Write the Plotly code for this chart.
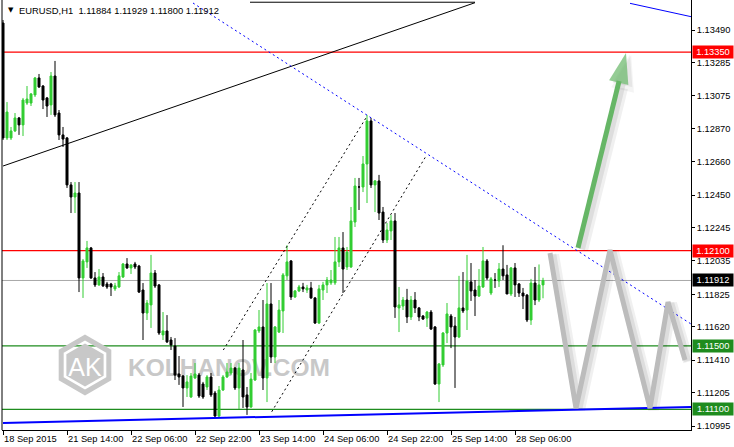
import math
import plotly.graph_objects as go

# ---------------- data ----------------
symbol = "EURUSD"
timeframe = "H1"

open_ = [1.13534, 1.12810, 1.12810, 1.12854, 1.12936, 1.12892, 1.13030, 1.13030, 1.13081, 1.13188,
         1.13137, 1.13062, 1.13018, 1.13200, 1.12967, 1.12829, 1.12810, 1.12514, 1.12438, 1.12463,
         1.11928, 1.12029, 1.12117, 1.11928, 1.11884, 1.11934, 1.11890, 1.11890, 1.11859, 1.11871,
         1.11934, 1.12016, 1.11991, 1.12016, 1.12003, 1.11852, 1.11707, 1.11758, 1.11959, 1.11884,
         1.11569, 1.11594, 1.11537, 1.11499, 1.11323, 1.11310, 1.11235, 1.11178, 1.11298, 1.11316,
         1.11260, 1.11241, 1.11304, 1.11203, 1.11058, 1.11222, 1.11304, 1.11329, 1.11360, 1.11235,
         1.11348, 1.11191, 1.11115, 1.11285, 1.11594, 1.11619, 1.11298, 1.11764, 1.11430, 1.11587,
         1.11720, 1.11941, 1.12035, 1.11808, 1.11846, 1.11871, 1.11852, 1.11865, 1.11802, 1.11644,
         1.11852, 1.11884, 1.11897, 1.11897, 1.12029, 1.12117, 1.11997, 1.11997, 1.12280, 1.12501,
         1.12501, 1.12646, 1.12917, 1.12514, 1.12539, 1.12343, 1.12167, 1.12224, 1.12287, 1.11739,
         1.11751, 1.11789, 1.11682, 1.11789, 1.11739, 1.11688, 1.11675, 1.11713, 1.11619, 1.11260,
         1.11380, 1.11581, 1.11688, 1.11625, 1.11556, 1.11739, 1.11726, 1.11903, 1.11852, 1.11814,
         1.11871, 1.12035, 1.11833, 1.11915, 1.11909, 1.11984, 1.11947, 1.11827, 1.11991, 1.11890,
         1.11833, 1.11820, 1.11663, 1.11896, 1.11789, 1.11884]
high = [1.13553, 1.13036, 1.12879, 1.12967, 1.12942, 1.13062, 1.13137, 1.13093, 1.13194, 1.13213,
        1.13143, 1.13068, 1.13225, 1.13295, 1.12986, 1.12879, 1.12816, 1.12532, 1.12532, 1.12532,
        1.12047, 1.12161, 1.12123, 1.11965, 1.11984, 1.11959, 1.11903, 1.11897, 1.11897, 1.11965,
        1.12022, 1.12053, 1.12013, 1.12029, 1.12010, 1.11896, 1.11789, 1.12073, 1.11978, 1.11890,
        1.11713, 1.11694, 1.11556, 1.11549, 1.11436, 1.11316, 1.11316, 1.11329, 1.11392, 1.11329,
        1.11273, 1.11316, 1.11329, 1.11216, 1.11247, 1.11316, 1.11392, 1.11392, 1.11367, 1.11392,
        1.11537, 1.11241, 1.11329, 1.11606, 1.11726, 1.11789, 1.11896, 1.11896, 1.11625, 1.11789,
        1.11959, 1.12134, 1.12041, 1.11852, 1.11884, 1.11897, 1.11884, 1.11903, 1.11808, 1.11884,
        1.11903, 1.11934, 1.11978, 1.12186, 1.12186, 1.12217, 1.12123, 1.12375, 1.12558, 1.12558,
        1.12696, 1.12955, 1.12936, 1.12545, 1.12577, 1.12375, 1.12274, 1.12324, 1.12337, 1.11871,
        1.11808, 1.11859, 1.11814, 1.11839, 1.11745, 1.11694, 1.11720, 1.11726, 1.11625, 1.11392,
        1.11587, 1.11770, 1.11701, 1.11682, 1.11941, 1.11965, 1.12073, 1.12022, 1.11915, 1.11984,
        1.12123, 1.12047, 1.11934, 1.11959, 1.12022, 1.12134, 1.12010, 1.11997, 1.12022, 1.11896,
        1.11865, 1.11827, 1.11922, 1.11997, 1.12013, 1.11929]
low = [1.12797, 1.12797, 1.12797, 1.12847, 1.12829, 1.12822, 1.13018, 1.13011, 1.13068, 1.13125,
       1.12992, 1.12942, 1.12955, 1.12942, 1.12797, 1.12753, 1.12495, 1.12337, 1.12337, 1.11839,
       1.11802, 1.11991, 1.11922, 1.11871, 1.11878, 1.11871, 1.11859, 1.11814, 1.11846, 1.11865,
       1.11928, 1.11985, 1.11953, 1.11984, 1.11833, 1.11537, 1.11663, 1.11613, 1.11865, 1.11569,
       1.11537, 1.11518, 1.11474, 1.11285, 1.11254, 1.11115, 1.11178, 1.11172, 1.11291, 1.11172,
       1.11166, 1.11222, 1.11178, 1.11052, 1.11052, 1.11216, 1.11298, 1.11316, 1.11222, 1.11102,
       1.11109, 1.11065, 1.11109, 1.11279, 1.11581, 1.11222, 1.11146, 1.11392, 1.11392, 1.11581,
       1.11581, 1.11915, 1.11789, 1.11802, 1.11839, 1.11839, 1.11833, 1.11796, 1.11638, 1.11638,
       1.11789, 1.11833, 1.11884, 1.11884, 1.11997, 1.11833, 1.11978, 1.11991, 1.12249, 1.12356,
       1.12469, 1.12400, 1.12495, 1.12343, 1.12293, 1.12148, 1.12148, 1.12167, 1.11676, 1.11587,
       1.11726, 1.11644, 1.11663, 1.11707, 1.11656, 1.11663, 1.11619, 1.11600, 1.11254, 1.11146,
       1.11367, 1.11518, 1.11486, 1.11235, 1.11549, 1.11707, 1.11600, 1.11783, 1.11688, 1.11808,
       1.11865, 1.11915, 1.11820, 1.11865, 1.11871, 1.11915, 1.11827, 1.11814, 1.11808, 1.11808,
       1.11732, 1.11650, 1.11632, 1.11757, 1.11776, 1.11800]
close = [1.12810, 1.12973, 1.12854, 1.12936, 1.12892, 1.13049, 1.13055, 1.13087, 1.13188, 1.13131,
         1.13049, 1.13011, 1.13200, 1.12955, 1.12829, 1.12803, 1.12514, 1.12438, 1.12463, 1.11928,
         1.12035, 1.12117, 1.11928, 1.11884, 1.11934, 1.11878, 1.11871, 1.11871, 1.11878, 1.11941,
         1.12016, 1.11991, 1.12010, 1.11997, 1.11839, 1.11707, 1.11770, 1.11959, 1.11877, 1.11581,
         1.11594, 1.11525, 1.11506, 1.11316, 1.11304, 1.11235, 1.11273, 1.11310, 1.11323, 1.11184,
         1.11178, 1.11304, 1.11191, 1.11058, 1.11222, 1.11304, 1.11335, 1.11360, 1.11235, 1.11360,
         1.11178, 1.11115, 1.11291, 1.11600, 1.11619, 1.11298, 1.11764, 1.11430, 1.11619, 1.11726,
         1.11947, 1.12029, 1.11808, 1.11846, 1.11871, 1.11859, 1.11865, 1.11802, 1.11644, 1.11859,
         1.11884, 1.11915, 1.11915, 1.12029, 1.12117, 1.11984, 1.12091, 1.12287, 1.12507, 1.12501,
         1.12646, 1.12917, 1.12514, 1.12539, 1.12337, 1.12167, 1.12230, 1.12287, 1.11745, 1.11758,
         1.11789, 1.11682, 1.11789, 1.11739, 1.11682, 1.11669, 1.11713, 1.11606, 1.11260, 1.11386,
         1.11581, 1.11701, 1.11619, 1.11556, 1.11739, 1.11720, 1.11909, 1.11846, 1.11814, 1.11877,
         1.12035, 1.11928, 1.11922, 1.11915, 1.11984, 1.11941, 1.11827, 1.11991, 1.11884, 1.11833,
         1.11814, 1.11663, 1.11896, 1.11789, 1.11884, 1.11912]

bars = list(range(len(close)))

xtick_bars = [0, 16, 32, 48, 64, 80, 96, 112, 128]
xtick_labels = ["18 Sep 2015", "21 Sep 14:00", "22 Sep 06:00", "22 Sep 22:00", "23 Sep 14:00",
                "24 Sep 06:00", "24 Sep 22:00", "25 Sep 14:00", "28 Sep 06:00"]
ytick_values = [1.13490, 1.13285, 1.13075, 1.12870, 1.12660, 1.12450, 1.12245,
                1.12035, 1.11825, 1.11620, 1.11410, 1.11205, 1.10995]

resistance_levels = [1.13350, 1.12100]
support_levels = [1.11500, 1.11100]
bid_price = close[-1]

# drawn objects (bar index, price)
trend_black_x = [0, 118]
trend_black_y = [1.12633, 1.13662]
top_black_x = [61.75, 118]
top_black_y = [1.13665, 1.13665]
resist_blue_x = [47.5, 172]
resist_blue_y = [1.13660, 1.11638]
upper_blue_x = [156.75, 172]
upper_blue_y = [1.13658, 1.13574]
support_blue_x = [0, 172]
support_blue_y = [1.11014, 1.11115]
chan_upper_x = [55.08, 90.93]
chan_upper_y = [1.11474, 1.12944]
chan_lower_x = [67.18, 105.93]
chan_lower_y = [1.11085, 1.12703]
arrow_x = [143.75, 155.75]
arrow_y = [1.12117, 1.13345]
zigzag_x = [136.75, 143.25, 151.75, 161.75, 166.25, 170.5]
zigzag_y = [1.12085, 1.11108, 1.12104, 1.11108, 1.11776, 1.11411]

# ---------------- style / layout ----------------
W, H = 734, 447
ML, MR, MT, MB = 2, 43, 0, 17
PW, PH = W - ML - MR, H - MT - MB
FONT = "Liberation Sans, Arial, sans-serif"
BULL = "#32CD32"
GREEN_LVL = "#1E8C1E"
RED_LVL = "#FF0000"


def px(x):
    return (x - ML) / PW


def py(y):
    return 1 - (y - MT) / PH


fig = go.Figure()

# soft shadows of the zigzag and the arrow
for dx, dy, a, wd in [(0.9, -0.00010, 0.06, 11), (0.7, -0.00007, 0.08, 7)]:
    fig.add_trace(go.Scatter(x=[v + dx for v in zigzag_x], y=[v + dy for v in zigzag_y],
                             mode="lines", line=dict(color=f"rgba(0,0,0,{a})", width=wd),
                             hoverinfo="skip"))
for dx, dy, a, wd, ms in [(1.3, -0.00012, 0.06, 10, 38), (1.0, -0.00009, 0.08, 6, 33)]:
    fig.add_trace(go.Scatter(x=[v + dx for v in arrow_x], y=[v + dy for v in arrow_y],
                             mode="lines+markers", line=dict(color=f"rgba(0,0,0,{a})", width=wd),
                             marker=dict(symbol="arrow", size=[0, ms], angleref="previous",
                                         color=f"rgba(0,0,0,{a})", line=dict(width=0)),
                             hoverinfo="skip"))

# trend lines
line_specs = [
    (trend_black_x, trend_black_y, "black", 1, "solid"),
    (top_black_x, top_black_y, "black", 1, "solid"),
    (resist_blue_x, resist_blue_y, "#0000FF", 1, "2px,3px"),
    (upper_blue_x, upper_blue_y, "#0000FF", 1, "solid"),
    (support_blue_x, support_blue_y, "#0000FF", 2, "solid"),
    (chan_upper_x, chan_upper_y, "black", 1, "2px,3px"),
    (chan_lower_x, chan_lower_y, "black", 1, "2px,3px"),
]
for xs, ys, col, wd, dash in line_specs:
    fig.add_trace(go.Scatter(x=xs, y=ys, mode="lines",
                             line=dict(color=col, width=wd, dash=dash), hoverinfo="skip"))

# candles
fig.add_trace(go.Candlestick(
    x=bars, open=open_, high=high, low=low, close=close,
    increasing=dict(line=dict(color=BULL, width=1), fillcolor=BULL),
    decreasing=dict(line=dict(color="black", width=1), fillcolor="black"),
    whiskerwidth=0, hoverinfo="skip"))

# zigzag and arrow
fig.add_trace(go.Scatter(x=zigzag_x, y=zigzag_y, mode="lines",
                         line=dict(color="rgb(188,188,188)", width=5), hoverinfo="skip"))
fig.add_trace(go.Scatter(x=arrow_x, y=arrow_y, mode="lines+markers",
                         line=dict(color="rgb(102,182,102)", width=5),
                         marker=dict(symbol="arrow", size=[0, 32], angleref="previous",
                                     color="rgb(102,182,102)", line=dict(width=0)),
                         hoverinfo="skip"))

shapes = []
# horizontal levels
for v in resistance_levels:
    shapes.append(dict(type="line", xref="paper", yref="y", x0=0, x1=1, y0=v, y1=v,
                       line=dict(color=RED_LVL, width=1.2), layer="below"))
for v in support_levels:
    shapes.append(dict(type="line", xref="paper", yref="y", x0=0, x1=1, y0=v, y1=v,
                       line=dict(color=GREEN_LVL, width=1.2), layer="below"))
shapes.append(dict(type="line", xref="paper", yref="y", x0=0, x1=1, y0=bid_price, y1=bid_price,
                   line=dict(color="#A8A8A8", width=1), layer="below"))
# left frame
shapes.append(dict(type="line", xref="paper", yref="paper", x0=0, x1=0, y0=0, y1=1,
                   line=dict(color="black", width=1)))

# watermark
WM = "#C8C8C8"


def hexpath(cx, cy, r):
    pts = []
    for k in range(6):
        a = math.radians(90 - 60 * k)
        pts.append((px(cx + r * math.cos(a)), py(cy - r * math.sin(a))))
    return "M" + " L".join(f"{a:.5f},{b:.5f}" for a, b in pts) + " Z"


shapes.append(dict(type="path", xref="paper", yref="paper", path=hexpath(85, 365, 27.5),
                   line=dict(color=WM, width=5), fillcolor="rgba(0,0,0,0)", layer="below"))
shapes.append(dict(type="path", xref="paper", yref="paper", path=hexpath(85, 365, 21.5),
                   line=dict(color=WM, width=0), fillcolor=WM, layer="below"))
shapes.append(dict(type="rect", xref="paper", yref="paper", x0=px(60), x1=px(110),
                   y0=py(380), y1=py(350), line=dict(width=0), fillcolor="rgba(0,0,0,0)",
                   layer="below",
                   label=dict(text="AK", textposition="middle center",
                              font=dict(family=FONT, size=25, color="white"))))
shapes.append(dict(type="rect", xref="paper", yref="paper", x0=px(121), x1=px(340),
                   y0=py(378), y1=py(352), line=dict(width=0), fillcolor="rgba(0,0,0,0)",
                   layer="below",
                   label=dict(text="<b>KOLHANOV.COM</b>", textposition="middle left", padding=4,
                              font=dict(family=FONT, size=24.5, color=WM))))

# right-axis price boxes
boxes = [(v, RED_LVL) for v in resistance_levels] + [(v, GREEN_LVL) for v in support_levels]
boxes.append((bid_price, "black"))
ann = []
for v, col in boxes:
    ann.append(dict(xref="paper", x=1, xanchor="left", xshift=1, yref="y", y=v, yanchor="middle",
                    text=f"{v:.5f}", showarrow=False, bgcolor=col, borderpad=1, width=38, height=10,
                    align="center", font=dict(family=FONT, size=9.3, color="white")))

# header
ann.append(dict(xref="paper", yref="paper", x=px(6), y=py(10.5), xanchor="left", yanchor="middle",
                text="▼", showarrow=False, font=dict(family="DejaVu Sans", size=7, color="black")))
ann.append(dict(xref="paper", yref="paper", x=px(17), y=py(10.5), xanchor="left", yanchor="middle",
                text=f"{symbol},{timeframe}  {open_[-1]:.5f} {high[-1]:.5f} {low[-1]:.5f} {close[-1]:.5f}",
                showarrow=False, font=dict(family=FONT, size=9.4, color="black")))

fig.update_layout(
    width=W, height=H,
    margin=dict(l=ML, r=MR, t=MT, b=MB, pad=0),
    paper_bgcolor="white", plot_bgcolor="white",
    showlegend=False, hovermode=False,
    boxgap=0.5, boxgroupgap=0,
    shapes=shapes, annotations=ann,
    xaxis=dict(range=[-0.25, 172], rangeslider=dict(visible=False),
               tickvals=xtick_bars, ticktext=xtick_labels, ticklabelposition="outside right",
               tickangle=0, automargin=False,
               ticks="outside", ticklen=4, tickcolor="black", tickwidth=1,
               showline=True, linecolor="black", linewidth=1,
               showgrid=False, zeroline=False,
               tickfont=dict(family=FONT, size=9.3, color="black")),
    yaxis=dict(side="right", range=[1.10970, 1.13679], automargin=False,
               tickvals=ytick_values, ticktext=[f"{v:.5f}" for v in ytick_values],
               ticks="outside", ticklen=3, tickcolor="black", tickwidth=1,
               showline=True, linecolor="black", linewidth=1,
               showgrid=False, zeroline=False,
               tickfont=dict(family=FONT, size=9.3, color="black")),
)

fig.write_html("out.html", config={"displayModeBar": False},
               post_script="document.body.style.margin='0';document.body.style.padding='0';"
                           "document.body.style.overflow='hidden';")
